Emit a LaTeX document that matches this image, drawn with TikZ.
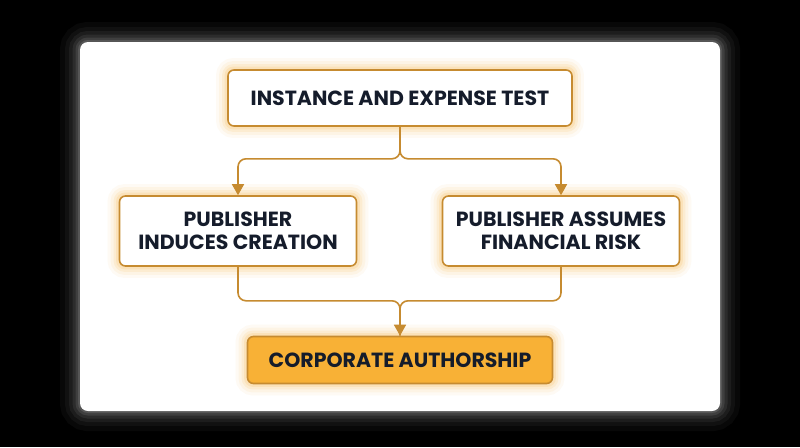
\documentclass[tikz,border=0pt]{standalone}
\usepackage{fontspec}
\setmainfont{Poppins}
\usetikzlibrary{arrows.meta,backgrounds}
\pgfdeclarelayer{back}
\pgfsetlayers{back,background,main}
\definecolor{boxline}{HTML}{C68B30}
\definecolor{boxglow}{HTML}{F7A928}
\definecolor{boxfill}{HTML}{F8B136}
\definecolor{ink}{HTML}{151C2B}

\newcommand\glowbox[2]{%
  \foreach \w/\o in {22/0.05,16/0.07,10/0.1,5/0.14}{
    \draw[#2, line width=\w pt, opacity=\o, rounded corners=6pt] (#1.south west) rectangle (#1.north east);
  }}

\begin{document}
\begin{tikzpicture}[x=1pt, y=-1pt,
    stepbox/.style={draw=boxline, line width=1.6pt, fill=white, rounded corners=6pt,
      text=ink, font=\fontsize{20.5}{22.5}\selectfont\bfseries, align=center, inner sep=0pt},
    endbox/.style={stepbox, fill=boxfill},
    link/.style={draw=boxline, line width=1.6pt, rounded corners=8pt},
    arr/.style={link, -{Triangle[width=12pt,length=11pt]}}]
  % background and panel
  \begin{pgfonlayer}{back}
    \fill[black] (0,0) rectangle (800,447);
    \foreach \w/\o in {40/0.03,30/0.04,22/0.05,15/0.07,9/0.09,4/0.12}{
      \draw[white, line width=\w pt, opacity=\o, rounded corners=8pt] (80,42) rectangle (720,411);
    }
    \fill[white, rounded corners=8pt] (80,42) rectangle (720,411);
  \end{pgfonlayer}
  \useasboundingbox (0,0) rectangle (800,447);

  % boxes
  \node[stepbox, minimum width=344pt, minimum height=56pt] (test) at (400,98) {INSTANCE AND EXPENSE TEST};
  \node[stepbox, minimum width=237pt, minimum height=70pt] (induce) at (238,231) {PUBLISHER\\INDUCES CREATION};
  \node[stepbox, minimum width=237pt, minimum height=70pt] (risk) at (561,231) {PUBLISHER ASSUMES\\FINANCIAL RISK};
  \node[endbox, minimum width=305pt, minimum height=47pt] (corp) at (400,360) {CORPORATE AUTHORSHIP};

  \begin{pgfonlayer}{background}
    \glowbox{test}{boxglow}
    \glowbox{induce}{boxglow}
    \glowbox{risk}{boxglow}
    \glowbox{corp}{boxglow}
  \end{pgfonlayer}

  % connectors
  \draw[arr] (test.south) -- ++(0,32) -| (induce.north);
  \draw[arr] (test.south) -- ++(0,32) -| (risk.north);
  \draw[link] (induce.south) -- ++(0,34) -| (corp.north);
  \draw[arr] (risk.south) -- ++(0,34) -| (corp.north);
\end{tikzpicture}
\end{document}
